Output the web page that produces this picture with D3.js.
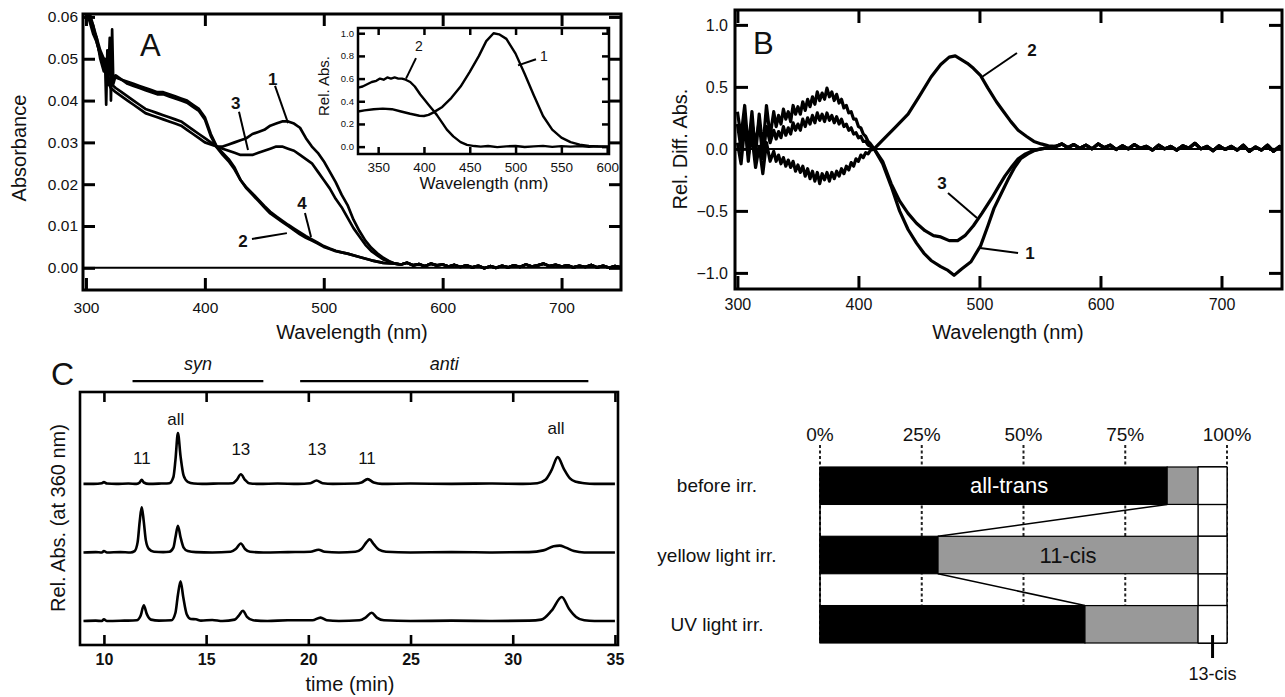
<!DOCTYPE html>
<html>
<head>
<meta charset="utf-8">
<script src="https://cdn.jsdelivr.net/npm/d3@7"></script>
<style>
  body { margin: 0; background: #fff; }
  svg { display: block; font-family: "Liberation Sans", Arial, Helvetica, sans-serif; }
</style>
</head>
<body>
<svg id="fig" width="1285" height="697"></svg>
<script>
// ---- panel A: absorption spectra [nm, absorbance] ----
const absTail = [[565,0.0008],[570,0.0012],[575,0.0006],[580,0.0009],[585,0.0004],[590,0.0010],[595,0.0006],[600,0.0008],
  [605,0.0003],[610,0.0007],[615,0.0002],[620,0.0006],[625,0.0001],[630,0.0005],[635,-0.0001],[640,0.0004],[645,0.0000],
  [650,0.0005],[655,0.0001],[660,0.0006],[665,0.0002],[670,0.0008],[675,0.0003],[680,0.0006],[685,0.0010],[690,0.0004],
  [695,0.0007],[700,0.0003],[705,0.0006],[710,0.0001],[715,0.0005],[720,0.0002],[725,0.0007],[730,0.0001],[735,0.0005],
  [740,0.0000],[745,0.0004],[750,0.0001]];
const absSpec1 = [[300,0.062],[303,0.060],[306,0.057],[309,0.055],[312,0.050],[315,0.047],[316,0.050],[317,0.039],[318,0.052],
  [319,0.044],[321,0.043],[325,0.042],[330,0.041],[335,0.040],[340,0.039],[345,0.038],[350,0.037],[355,0.0365],[360,0.036],
  [365,0.0355],[370,0.035],[375,0.0345],[380,0.034],[385,0.033],[390,0.032],[395,0.031],[400,0.030],[405,0.0295],[410,0.029],
  [415,0.029],[420,0.0295],[425,0.030],[430,0.0305],[435,0.031],[440,0.032],[445,0.0325],[450,0.033],[455,0.034],[460,0.0345],
  [465,0.035],[470,0.035],[475,0.0345],[480,0.0335],[485,0.031],[490,0.029],[495,0.0275],[500,0.0255],[505,0.023],[510,0.0205],
  [515,0.0175],[520,0.015],[525,0.0115],[530,0.0088],[535,0.0065],[540,0.0048],[545,0.0035],[550,0.0024],[555,0.0016],
  [560,0.001]].concat(absTail);
const absSpec2 = [[300,0.064],[303,0.060],[306,0.058],[309,0.055],[312,0.052],[315,0.050],[318,0.047],[319,0.047],[320,0.055],
  [321,0.040],[322,0.057],[323,0.044],[325,0.046],[330,0.045],[335,0.0445],[340,0.044],[345,0.0435],[350,0.043],[355,0.0425],
  [360,0.042],[365,0.042],[370,0.0415],[375,0.041],[380,0.0405],[385,0.040],[390,0.039],[395,0.038],[400,0.036],[405,0.032],
  [410,0.029],[415,0.0275],[420,0.026],[425,0.024],[430,0.021],[435,0.019],[440,0.0175],[445,0.016],[450,0.0145],[455,0.013],
  [460,0.012],[465,0.011],[470,0.010],[475,0.009],[480,0.008],[485,0.0072],[490,0.0065],[495,0.0058],[500,0.005],[505,0.0045],
  [510,0.004],[515,0.0037],[520,0.0034],[530,0.0026],[540,0.0018],[550,0.0012],[560,0.001]].concat(absTail);
const absSpec3 = [[300,0.063],[303,0.061],[306,0.058],[309,0.054],[312,0.051],[315,0.048],[318,0.046],[321,0.044],[325,0.043],
  [330,0.042],[335,0.041],[340,0.040],[345,0.039],[350,0.038],[355,0.0375],[360,0.037],[365,0.0365],[370,0.036],[375,0.0355],
  [380,0.035],[385,0.034],[390,0.033],[395,0.032],[400,0.031],[405,0.030],[410,0.029],[415,0.0285],[420,0.028],[425,0.0275],
  [430,0.027],[435,0.027],[440,0.027],[445,0.0275],[450,0.028],[455,0.0285],[460,0.029],[465,0.029],[470,0.0285],[475,0.028],
  [480,0.027],[485,0.026],[490,0.025],[495,0.023],[500,0.021],[505,0.019],[510,0.0165],[515,0.0145],[520,0.012],[525,0.0095],
  [530,0.0075],[535,0.0055],[540,0.004],[545,0.003],[550,0.002],[555,0.0015],[560,0.001]].concat(absTail);
const absSpec4 = [[300,0.061],[303,0.059],[306,0.056],[309,0.054],[312,0.051],[315,0.049],[318,0.047],[321,0.046],[325,0.0455],
  [330,0.045],[335,0.044],[340,0.0435],[345,0.043],[350,0.0425],[355,0.042],[360,0.0415],[365,0.0415],[370,0.041],[375,0.0405],
  [380,0.040],[385,0.0395],[390,0.0385],[395,0.0375],[400,0.0355],[405,0.0315],[410,0.0288],[415,0.027],[420,0.0255],[425,0.0235],
  [430,0.021],[435,0.0192],[440,0.0178],[445,0.0163],[450,0.0148],[455,0.0134],[460,0.0123],[465,0.0113],[470,0.0103],
  [475,0.0094],[480,0.0085],[485,0.0076],[490,0.0068],[495,0.006],[500,0.0052],[505,0.0046],[510,0.0041],[515,0.0037],
  [520,0.0034],[530,0.0026],[540,0.0018],[550,0.0012],[560,0.001]].concat(absTail);
const absTicksX = [300, 400, 500, 600, 700];
const absTicksY = [0, 0.01, 0.02, 0.03, 0.04, 0.05, 0.06];
// labels: [text, text nm, text abs, leader from nm, abs, to nm, abs]
const absLabels = [["1",457,0.0451,459,0.0435,470,0.0346],["3",426,0.0394,428.7,0.0373,436.3,0.0282],
  ["4",481.7,0.0155,484.2,0.0131,489.3,0.0074],["2",432,0.0064,439.6,0.0069,469,0.0083]];

// ---- panel A inset: normalised spectra ----
const insetSpec1 = [[328,0.31],[335,0.32],[345,0.33],[355,0.335],[365,0.33],[375,0.31],[385,0.29],[395,0.272],[400,0.27],
  [405,0.28],[410,0.30],[420,0.35],[430,0.43],[440,0.53],[450,0.66],[460,0.80],[468,0.93],[476,1.0],[482,0.99],[490,0.95],
  [500,0.82],[510,0.64],[520,0.45],[530,0.27],[540,0.15],[550,0.08],[560,0.04],[570,0.018],[580,0.007],[590,0.002],[602,0.0]];
const insetSpec2 = [[328,0.52],[333,0.53],[338,0.55],[343,0.57],[348,0.58],[352,0.60],[356,0.59],[360,0.61],[364,0.60],
  [368,0.61],[372,0.60],[376,0.60],[380,0.59],[385,0.57],[390,0.53],[396,0.46],[400,0.42],[405,0.37],[410,0.32],[414,0.28],
  [420,0.21],[425,0.15],[432,0.09],[440,0.04],[447,0.015],[455,0.005],[462,0.0],[470,0.006],[480,-0.004],[490,0.002],
  [500,0.006],[510,-0.003],[520,0.002],[530,0.007],[540,-0.002],[550,0.004],[560,0.0],[570,0.004],[580,-0.002],[590,0.002],[602,0.0]];
const insetTicksX = [350, 400, 450, 500, 550, 600];
const insetTicksY = [0, 0.2, 0.4, 0.6, 0.8, 1.0];
const insetLabels = [["2",394.6,0.89,391.3,0.78,380.4,0.60],["1",531,0.80,522.3,0.77,502.7,0.716]];

// ---- panel B: difference spectra ----
const diffTail = [[563,0.02],[568,0.04],[573,0.01],[578,0.035],[583,0.005],[588,0.03],[593,0.0],[598,0.04],[603,0.01],
  [608,0.03],[613,-0.005],[618,0.025],[623,0.0],[628,0.035],[633,0.005],[638,0.02],[643,-0.01],[648,0.03],[653,0.0],
  [658,0.02],[663,-0.01],[668,0.025],[673,0.005],[678,0.045],[683,0.0],[688,0.02],[693,-0.015],[698,0.025],[703,-0.005],
  [708,0.02],[713,-0.01],[718,0.03],[723,-0.02],[728,0.015],[733,-0.01],[738,0.03],[743,-0.02],[748,0.02],[750,-0.01]];
const diffSpec1 = [[300,0.3],[303,0.1],[306,0.35],[309,0.0],[312,0.3],[315,-0.05],[318,0.28],[321,0.0],[324,0.35],[327,0.1],
  [330,0.3],[332,0.18],[334,0.27],[336,0.2],[338,0.32],[340,0.24],[342,0.3],[344,0.22],[346,0.35],[348,0.28],[350,0.34],
  [352,0.28],[354,0.38],[356,0.31],[358,0.4],[360,0.34],[362,0.42],[364,0.36],[366,0.46],[368,0.39],[370,0.45],[372,0.4],
  [374,0.49],[376,0.42],[378,0.46],[380,0.39],[382,0.44],[384,0.37],[386,0.4],[388,0.33],[390,0.35],[392,0.29],[394,0.3],
  [396,0.24],[398,0.24],[400,0.18],[402,0.17],[404,0.12],[406,0.1],[408,0.06],[410,0.04],[413,0],[420,-0.12],[427,-0.3],
  [434,-0.5],[441,-0.65],[448,-0.76],[454,-0.84],[460,-0.9],[468,-0.95],[474,-0.98],[479,-1.02],[485,-0.97],[493,-0.91],
  [501,-0.78],[507,-0.62],[512,-0.48],[518,-0.36],[524,-0.24],[529,-0.15],[534,-0.08],[540,-0.04],[545,-0.015],[551,0.0],
  [557,0.01]].concat(diffTail);
const diffSpec2 = [[300,0.05],[303,-0.12],[306,0.18],[309,-0.05],[312,0.1],[315,-0.15],[318,0.02],[321,-0.2],[324,0.05],
  [327,-0.1],[330,-0.02],[332,-0.1],[334,-0.05],[336,-0.12],[338,-0.07],[340,-0.14],[342,-0.09],[344,-0.15],[346,-0.1],
  [348,-0.18],[350,-0.13],[352,-0.19],[354,-0.14],[356,-0.22],[358,-0.16],[360,-0.24],[362,-0.18],[364,-0.26],[366,-0.19],
  [368,-0.28],[370,-0.2],[372,-0.25],[374,-0.19],[376,-0.26],[378,-0.19],[380,-0.24],[382,-0.18],[384,-0.22],[386,-0.16],
  [388,-0.2],[390,-0.14],[392,-0.17],[394,-0.11],[396,-0.14],[398,-0.08],[400,-0.1],[402,-0.05],[404,-0.07],[406,-0.03],
  [408,-0.04],[410,-0.01],[413,0],[420,0.07],[430,0.17],[441,0.28],[450,0.42],[460,0.58],[468,0.68],[475,0.74],[480,0.75],
  [485,0.72],[490,0.69],[495,0.65],[501,0.59],[507,0.49],[514,0.38],[520,0.3],[526,0.22],[532,0.15],[539,0.1],[545,0.06],
  [551,0.04],[557,0.025]].concat(diffTail);
const diffSpec3 = [[300,0.2],[303,0.0],[306,0.25],[309,-0.1],[312,0.2],[315,0.05],[318,0.22],[321,-0.08],[324,0.18],
  [327,0.05],[330,0.15],[332,0.08],[334,0.14],[336,0.09],[338,0.18],[340,0.11],[342,0.17],[344,0.12],[346,0.21],[348,0.15],
  [350,0.2],[352,0.15],[354,0.24],[356,0.18],[358,0.25],[360,0.2],[362,0.27],[364,0.21],[366,0.29],[368,0.23],[370,0.28],
  [372,0.22],[374,0.29],[376,0.23],[378,0.27],[380,0.21],[382,0.26],[384,0.2],[386,0.24],[388,0.18],[390,0.2],[392,0.15],
  [394,0.17],[396,0.12],[398,0.13],[400,0.09],[402,0.1],[404,0.06],[406,0.06],[408,0.03],[410,0.02],[413,0],[420,-0.1],
  [427,-0.28],[434,-0.42],[441,-0.52],[448,-0.6],[455,-0.66],[462,-0.7],[468,-0.71],[475,-0.74],[482,-0.74],[488,-0.7],
  [495,-0.62],[502,-0.52],[510,-0.4],[516,-0.3],[521,-0.22],[527,-0.14],[532,-0.08],[538,-0.04],[545,-0.01],[551,0.0],
  [557,0.01]].concat(diffTail);
const diffTicksX = [300, 400, 500, 600, 700];
const diffTicksY = [-1.0, -0.5, 0, 0.5, 1.0];
const diffLabels = [["2",543.5,0.797,531,0.773,502,0.58],["3",469,-0.275,474,-0.356,498,-0.557],
  ["1",541.8,-0.84,531.9,-0.84,500.5,-0.80]];

// ---- panel C: HPLC traces [min, rel. abs.] ----
const hplcBefore = [[9.0,0],[9.5,0.0],[9.9,0.01],[10.0,0.025],[10.15,0.005],[10.6,0],[11.2,0.005],[11.6,0.0],[11.75,0.02],
  [11.85,0.06],[11.95,0.02],[12.2,0],[12.8,0.005],[13.2,0.01],[13.4,0.1],[13.5,0.35],[13.62,0.74],[13.75,0.4],[13.9,0.12],
  [14.1,0.03],[14.4,0.005],[14.8,0],[15.6,0.005],[16.3,0.01],[16.5,0.06],[16.7,0.14],[16.9,0.06],[17.1,0.01],[17.6,0],
  [18.5,0.005],[19.5,0],[20.1,0.01],[20.4,0.05],[20.7,0.01],[21.2,0],[22.3,0.005],[22.6,0.02],[22.9,0.07],[23.2,0.02],
  [23.6,0],[25,0.005],[27,0],[29,0.005],[30.5,0],[31.2,0.01],[31.6,0.06],[31.9,0.2],[32.2,0.39],[32.5,0.22],[32.8,0.08],
  [33.1,0.03],[33.5,0.01],[34,0],[35,0.0]];
const hplcYellow = [[9.0,0],[9.6,0.005],[9.9,0.0],[10.0,0.02],[10.15,0.0],[10.8,0.005],[11.3,0.0],[11.5,0.02],[11.65,0.15],
  [11.75,0.45],[11.85,0.66],[11.95,0.45],[12.05,0.18],[12.2,0.05],[12.45,0.01],[12.9,0.005],[13.2,0.01],[13.4,0.07],
  [13.5,0.22],[13.62,0.39],[13.75,0.22],[13.9,0.07],[14.1,0.02],[14.5,0.005],[15.3,0.0],[16.2,0.01],[16.45,0.05],[16.7,0.13],
  [16.9,0.05],[17.15,0.01],[17.8,0],[19.0,0.005],[20.1,0.01],[20.5,0.04],[20.8,0.01],[21.5,0.0],[22.3,0.01],[22.6,0.05],
  [22.85,0.15],[23.0,0.19],[23.2,0.12],[23.45,0.04],[23.8,0.01],[25,0.0],[27,0.005],[29,0.0],[30.8,0.005],[31.5,0.03],
  [32.0,0.09],[32.3,0.1],[32.6,0.07],[33.0,0.02],[33.5,0.0],[35,0.0]];
const hplcUV = [[9.0,0],[9.6,0.005],[9.9,0.0],[10.0,0.025],[10.15,0.0],[11.0,0.005],[11.6,0.01],[11.8,0.08],[11.95,0.23],
  [12.1,0.1],[12.3,0.02],[12.7,0.005],[13.3,0.01],[13.5,0.12],[13.62,0.38],[13.75,0.58],[13.88,0.35],[14.05,0.1],[14.25,0.03],
  [14.5,0.025],[14.75,0.005],[15.3,0.015],[15.8,0.0],[16.4,0.02],[16.6,0.08],[16.8,0.15],[17.0,0.06],[17.3,0.01],[18.0,0.0],
  [19.0,0.01],[20.2,0.01],[20.6,0.05],[20.9,0.01],[21.5,0.0],[22.5,0.01],[22.8,0.05],[23.1,0.12],[23.35,0.05],[23.7,0.01],
  [25.0,0.0],[27.0,0.005],[29.0,0.0],[30.8,0.005],[31.4,0.02],[31.9,0.15],[32.4,0.35],[32.75,0.18],[33.1,0.06],[33.5,0.01],
  [34.0,0.0],[35,0.0]];
const hplcTicks = [10, 15, 20, 25, 30, 35];
// peak labels above the top trace: [text, min, level]
const hplcPeakLabels = [["11",11.86,2.38],["all",13.52,2.95],["13",16.7,2.51],["13",20.42,2.51],["11",22.87,2.38],["all",32.12,2.82]];
// elution windows: [name, from min, to min]
const elutionWindows = [["syn",11.4,17.8],["anti",19.6,33.7]];

// ---- panel D: isomer composition (%) ----
const isomerRows = ["before irr.", "yellow light irr.", "UV light irr."];
const allTransPct = [85.3, 29.0, 65.1];
const cis11Pct = [7.6, 63.9, 27.8];
const cis13Pct = [7.1, 7.1, 7.1];
const pctTicks = [0, 25, 50, 75, 100];

const svg = d3.select('#fig');
const ink = '#111';

function axesBox(g, x, y, o) {
  const [x0, x1] = x.range(), [yb, yt] = y.range();
  const style = s => {
    s.attr('font-family', null).attr('font-size', o.fs).attr('font-weight', o.fw || null);
    s.select('.domain').remove();
    s.selectAll('.tick line').attr('stroke', '#000').attr('stroke-width', o.sw);
    s.selectAll('.tick text').attr('fill', ink);
  };
  g.append('g').attr('transform', `translate(0,${yb})`)
    .call(d3.axisBottom(x).tickValues(o.xt).tickSize(-o.len).tickPadding(o.xpad).tickFormat(o.xf)).call(style);
  g.append('g').attr('transform', `translate(0,${yt})`)
    .call(d3.axisTop(x).tickValues(o.xtTop || o.xt).tickSize(-o.len).tickFormat('')).call(style);
  if (o.yt) {
    g.append('g').attr('class', 'yleft').attr('transform', `translate(${x0},0)`)
      .call(d3.axisLeft(y).tickValues(o.yt).tickSize(-o.len).tickPadding(o.ypad).tickFormat(o.yf)).call(style)
      .attr('font-size', o.yfs || o.fs);
    g.append('g').attr('transform', `translate(${x1},0)`)
      .call(d3.axisRight(y).tickValues(o.yt).tickSize(-o.len).tickFormat('')).call(style);
  }
  g.append('rect').attr('x', x0).attr('y', yt).attr('width', x1 - x0).attr('height', yb - yt)
    .attr('fill', 'none').attr('stroke', '#000').attr('stroke-width', o.sw);
}

function clipTo(id, x, y) {
  const [x0, x1] = x.range(), [yb, yt] = y.range();
  svg.append('clipPath').attr('id', id).append('rect')
    .attr('x', x0).attr('y', yt).attr('width', x1 - x0).attr('height', yb - yt);
  return `url(#${id})`;
}

function labelled(g, list, x, y, fs, fw) {
  list.forEach(d => {
    g.append('line').attr('x1', x(d[3])).attr('y1', y(d[4])).attr('x2', x(d[5])).attr('y2', y(d[6]))
      .attr('stroke', '#000').attr('stroke-width', 2);
    g.append('text').attr('x', x(d[1])).attr('y', y(d[2])).attr('dy', '0.35em').attr('text-anchor', 'middle')
      .attr('font-size', fs).attr('font-weight', fw).attr('fill', ink).text(d[0]);
  });
}

function title(g, txt, px, py, fs, rot) {
  g.append('text').attr('transform', `translate(${px},${py})${rot ? ' rotate(-90)' : ''}`)
    .attr('text-anchor', 'middle').attr('dy', '0.35em').attr('font-size', fs).attr('fill', ink).text(txt);
}

// ================= A =================
{
  const g = svg.append('g');
  const x = d3.scaleLinear().domain([297.5, 750]).range([83, 621]);
  const y = d3.scaleLinear().domain([-0.0053, 0.0607]).range([290, 14]);
  const line = d3.line().x(d => x(d[0])).y(d => y(d[1]));
  const clip = clipTo('clipA', x, y);
  g.append('line').attr('x1', x.range()[0]).attr('x2', x.range()[1]).attr('y1', y(0)).attr('y2', y(0))
    .attr('stroke', '#000').attr('stroke-width', 2);
  g.append('g').attr('clip-path', clip).selectAll('path')
    .data([absSpec1, absSpec3, absSpec4, absSpec2]).join('path')
    .attr('d', line).attr('fill', 'none').attr('stroke', '#000').attr('stroke-width', 2.7)
    .attr('stroke-linejoin', 'round');
  axesBox(g, x, y, {xt: absTicksX, yt: absTicksY, len: 12, sw: 3, fs: 15.5, xpad: 12, ypad: 5,
    xf: d3.format('d'), yf: d3.format('.2f')});
  labelled(g, absLabels, x, y, 17, 'bold');
  title(g, 'Absorbance', 19, 148, 20, true);
  title(g, 'Wavelength (nm)', 352, 332, 20, false);
  g.append('text').attr('x', 140).attr('y', 56).attr('font-size', 31).attr('fill', ink).text('A');

  // inset
  const xi = d3.scaleLinear().domain([328, 602]).range([358, 609]);
  const yi = d3.scaleLinear().domain([-0.065, 1.046]).range([154, 28]);
  const li = d3.line().x(d => xi(d[0])).y(d => yi(d[1]));
  g.append('rect').attr('x', 358).attr('y', 28).attr('width', 251).attr('height', 126).attr('fill', '#fff');
  const clipI = clipTo('clipI', xi, yi);
  g.append('g').attr('clip-path', clipI).selectAll('path')
    .data([insetSpec1, insetSpec2]).join('path')
    .attr('d', li).attr('fill', 'none').attr('stroke', '#000').attr('stroke-width', 2.4)
    .attr('stroke-linejoin', 'round');
  axesBox(g, xi, yi, {xt: insetTicksX, yt: insetTicksY, len: 7, sw: 2.5, fs: 13.5, yfs: 9.5, xpad: 8, ypad: 4,
    xf: d3.format('d'), yf: d3.format('.1f')});
  labelled(g, insetLabels, xi, yi, 14, 'normal');
  title(g, 'Rel. Abs.', 324, 86, 15, true);
  title(g, 'Wavelength (nm)', 484, 183, 17, false);
}

// ================= B =================
{
  const g = svg.append('g');
  const x = d3.scaleLinear().domain([298, 750]).range([735, 1282]);
  const y = d3.scaleLinear().domain([-1.13, 1.12]).range([289, 10]);
  const line = d3.line().x(d => x(d[0])).y(d => y(d[1]));
  const clip = clipTo('clipB', x, y);
  g.append('line').attr('x1', x.range()[0]).attr('x2', x.range()[1]).attr('y1', y(0)).attr('y2', y(0))
    .attr('stroke', '#000').attr('stroke-width', 2);
  g.append('g').attr('clip-path', clip).selectAll('path')
    .data([diffSpec1, diffSpec3, diffSpec2]).join('path')
    .attr('d', line).attr('fill', 'none').attr('stroke', '#000').attr('stroke-width', 3.2)
    .attr('stroke-linejoin', 'round');
  axesBox(g, x, y, {xt: diffTicksX, yt: diffTicksY, len: 13, sw: 3, fs: 16, xpad: 10, ypad: 7,
    xf: d3.format('d'), yf: d3.format('.1f')});
  labelled(g, diffLabels, x, y, 17, 'bold');
  title(g, 'Rel. Diff. Abs.', 680, 149, 20, true);
  title(g, 'Wavelength (nm)', 1008, 332, 20, false);
  g.append('text').attr('x', 753).attr('y', 54).attr('font-size', 31).attr('fill', ink).text('B');
}

// ================= C =================
{
  const g = svg.append('g');
  const x = d3.scaleLinear().domain([8.83, 35.15]).range([80, 618]);
  const y = d3.scaleLinear().domain([-0.35, 3.34]).range([645, 392]);
  const clip = clipTo('clipC', x, y);
  const traces = [[hplcBefore, 2], [hplcYellow, 1], [hplcUV, 0]];
  g.append('g').attr('clip-path', clip).selectAll('path')
    .data(traces).join('path')
    .attr('d', ([pts, off]) => d3.line().curve(d3.curveMonotoneX).x(d => x(d[0])).y(d => y(d[1] + off))(pts))
    .attr('fill', 'none').attr('stroke', '#000').attr('stroke-width', 2.6).attr('stroke-linejoin', 'round');
  axesBox(g, x, y, {xt: hplcTicks, len: 10, sw: 2.6, fs: 16, fw: 'bold', xpad: 9, xf: d3.format('d')});
  g.selectAll('.peak').data(hplcPeakLabels).join('text').attr('class', 'peak')
    .attr('x', d => x(d[1])).attr('y', d => y(d[2])).attr('dy', '0.35em').attr('text-anchor', 'middle')
    .attr('font-size', 17).attr('fill', ink).text(d => d[0]);
  elutionWindows.forEach(w => {
    g.append('line').attr('x1', x(w[1])).attr('x2', x(w[2])).attr('y1', y(3.5)).attr('y2', y(3.5))
      .attr('stroke', '#000').attr('stroke-width', 2.2);
    g.append('text').attr('x', x((w[1] + w[2]) / 2)).attr('y', y(3.76)).attr('dy', '0.35em')
      .attr('text-anchor', 'middle').attr('font-size', 18).attr('font-style', 'italic').attr('fill', ink).text(w[0]);
  });
  title(g, 'Rel. Abs. (at 360 nm)', 58, 518, 20, true);
  g.append('text').attr('x', 350).attr('y', 691).attr('text-anchor', 'middle').attr('font-size', 20)
    .attr('fill', ink).text('time (min)');
  g.append('text').attr('x', 51).attr('y', 385).attr('font-size', 32).attr('fill', ink).text('C');
}

// ================= D =================
{
  const g = svg.append('g');
  const x = d3.scaleLinear().domain([0, 100]).range([820, 1227]);
  const y = d3.scaleBand().domain(isomerRows).range([467, 643]).paddingInner(0.46).paddingOuter(0);
  const [top, bottom] = y.range();
  const rows = isomerRows.map((r, i) => ({
    row: r, i,
    segs: [[0, allTransPct[i], '#000'], [allTransPct[i], allTransPct[i] + cis11Pct[i], '#999'],
      [allTransPct[i] + cis11Pct[i], allTransPct[i] + cis11Pct[i] + cis13Pct[i], '#fff']]
  }));
  // dotted guides
  g.selectAll('.guide').data(pctTicks).join('line').attr('class', 'guide')
    .attr('x1', d => x(d)).attr('x2', d => x(d)).attr('y1', 445).attr('y2', bottom)
    .attr('stroke', '#222').attr('stroke-width', 2).attr('stroke-dasharray', '3,2.5');
  g.selectAll('.pct').data(pctTicks).join('text').attr('class', 'pct')
    .attr('x', d => x(d)).attr('y', 441).attr('text-anchor', 'middle').attr('font-size', 19).attr('fill', ink)
    .text(d => d + '%');
  // 13-cis column cells (including the gaps)
  const split = allTransPct[0] + cis11Pct[0];
  const edges = [top];
  isomerRows.forEach(r => { edges.push(y(r)); edges.push(y(r) + y.bandwidth()); });
  edges.push(bottom);
  g.append('rect').attr('x', x(split)).attr('y', top).attr('width', x(100) - x(split)).attr('height', bottom - top)
    .attr('fill', '#fff');
  g.selectAll('.edge').data(edges).join('line').attr('class', 'edge')
    .attr('x1', x(split)).attr('x2', x(100)).attr('y1', d => d).attr('y2', d => d)
    .attr('stroke', '#000').attr('stroke-width', 1.5);
  [0, split, 100].forEach(v => g.append('line').attr('x1', x(v)).attr('x2', x(v)).attr('y1', top).attr('y2', bottom)
    .attr('stroke', '#000').attr('stroke-width', 1.5));
  // bars
  rows.forEach(r => {
    g.selectAll(null).data(r.segs).join('rect')
      .attr('x', d => x(d[0])).attr('width', d => x(d[1]) - x(d[0]))
      .attr('y', y(r.row)).attr('height', y.bandwidth())
      .attr('fill', d => d[2]).attr('stroke', '#000').attr('stroke-width', 1.2);
  });
  // connectors between all-trans ends
  for (let i = 0; i < isomerRows.length - 1; i++) {
    g.append('line').attr('x1', x(allTransPct[i])).attr('y1', y(isomerRows[i]) + y.bandwidth())
      .attr('x2', x(allTransPct[i + 1])).attr('y2', y(isomerRows[i + 1]))
      .attr('stroke', '#000').attr('stroke-width', 1.5);
  }
  // row labels
  g.selectAll('.row').data(isomerRows).join('text').attr('class', 'row')
    .attr('x', 717).attr('y', d => y(d) + y.bandwidth() / 2).attr('dy', '0.35em').attr('text-anchor', 'middle')
    .attr('font-size', 19).attr('fill', ink).text(d => d);
  g.append('text').attr('x', x(split / 2)).attr('y', y(isomerRows[0]) + y.bandwidth() / 2).attr('dy', '0.35em')
    .attr('text-anchor', 'middle').attr('font-size', 22).attr('fill', '#fff').text('all-trans');
  g.append('text').attr('x', x(allTransPct[1] + cis11Pct[1] / 2)).attr('y', y(isomerRows[1]) + y.bandwidth() / 2)
    .attr('dy', '0.35em').attr('text-anchor', 'middle').attr('font-size', 22).attr('fill', ink).text('11-cis');
  const c13 = x(split + cis13Pct[2] / 2);
  g.append('line').attr('x1', c13).attr('x2', c13).attr('y1', bottom - 8).attr('y2', bottom + 15)
    .attr('stroke', '#000').attr('stroke-width', 3);
  g.append('text').attr('x', c13).attr('y', 680).attr('text-anchor', 'middle').attr('font-size', 18)
    .attr('fill', ink).text('13-cis');
}
</script>
</body>
</html>
